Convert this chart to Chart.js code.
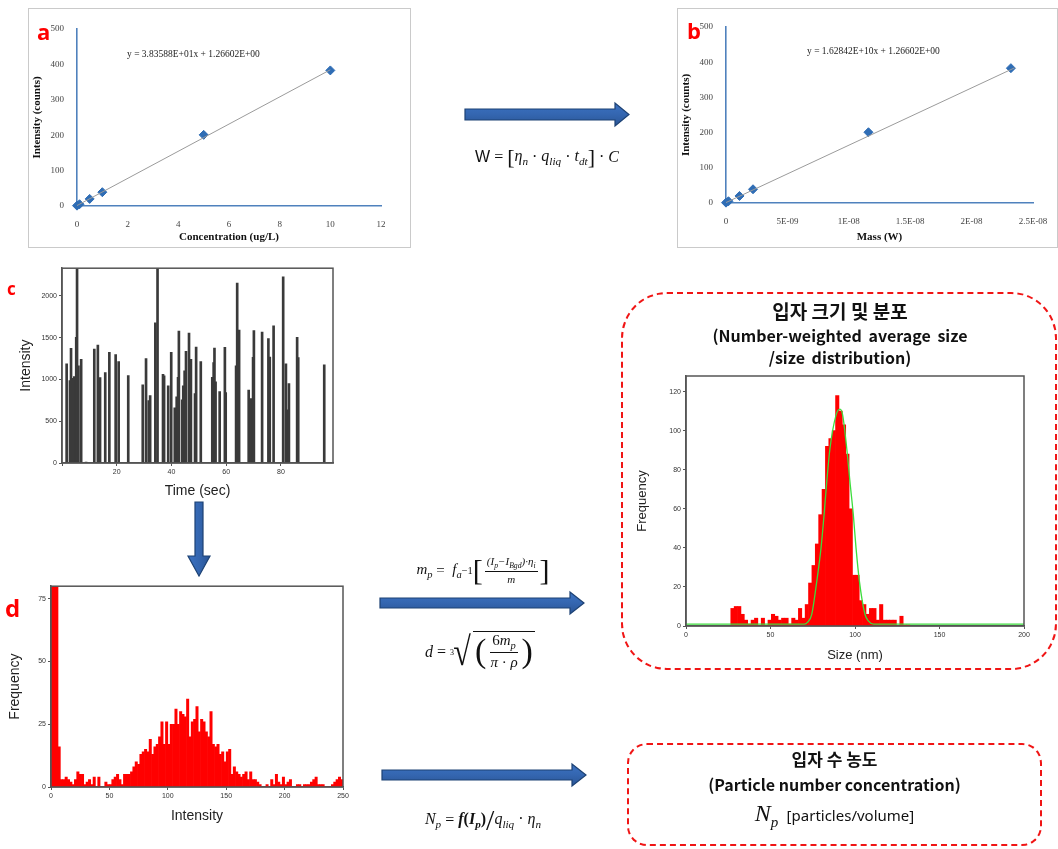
<!DOCTYPE html>
<html>
<head>
<meta charset="utf-8">
<script src="https://cdn.jsdelivr.net/npm/chart.js@4.4.1/dist/chart.umd.min.js"></script>
<style>
  body { margin: 0; width: 1058px; height: 849px; position: relative; overflow: hidden; background: #fff; font-family: "Liberation Sans", Arial, sans-serif; }
  canvas { position: absolute; }
  .abs { position: absolute; }
  .panel { position: absolute; border: 1.5px solid #cacaca; box-sizing: border-box; }
  .lbl { position: absolute; color: #f00; font-weight: bold; font-family: "Open Sans", "Noto Sans", sans-serif; line-height: 1; }
  .eq { position: absolute; font-family: "Liberation Serif", serif; font-size: 9.5px; color: #222; white-space: nowrap; }
  .dash { position: absolute; border: 2.5px dashed #f01515; box-sizing: border-box; }
  .kr { position: absolute; text-align: center; font-family: "Noto Sans CJK KR", sans-serif; font-weight: bold; color: #111; white-space: nowrap; }
  .fx { position: absolute; font-family: "Liberation Serif", serif; color: #111; white-space: nowrap; display: flex; justify-content: center; align-items: center; }
  .fx i { font-style: italic; }
  .fx sub { font-size: 0.7em; vertical-align: -0.35em; }
  .fx sup { font-size: 0.7em; vertical-align: 0.6em; }
  .frac { display: inline-flex; flex-direction: column; align-items: center; margin: 0 2px; }
  .frac .num { border-bottom: 1px solid #111; padding: 0 2px 1px; }
  .frac .den { padding: 1px 2px 0; }
</style>
</head>
<body>

<!-- panel boxes a / b -->
<div class="panel" style="left:28px;top:8px;width:383px;height:240px"></div>
<div class="panel" style="left:677px;top:8px;width:381px;height:240px"></div>

<canvas id="ca" width="382" height="239" style="left:28px;top:8px"></canvas>
<canvas id="cb" width="381" height="239" style="left:677px;top:8px"></canvas>
<canvas id="cc" width="345" height="240" style="left:0px;top:262px"></canvas>
<canvas id="cd" width="360" height="250" style="left:0px;top:580px"></canvas>

<div class="lbl" style="left:37px;top:20px;font-size:22px">a</div>
<div class="lbl" style="left:687px;top:19px;font-size:22px">b</div>
<div class="lbl" style="left:7px;top:280px;font-size:17px">c</div>
<div class="lbl" style="left:5px;top:596px;font-size:24px">d</div>

<div class="eq" style="left:127px;top:49px">y = 3.83588E+01x + 1.26602E+00</div>
<div class="eq" style="left:807px;top:46px">y = 1.62842E+10x + 1.26602E+00</div>

<!-- arrows -->
<svg class="abs" style="left:0;top:0" width="1058" height="849">
  <defs>
    <linearGradient id="gh" x1="0" y1="0" x2="0" y2="1">
      <stop offset="0" stop-color="#3c72c2"/><stop offset="0.5" stop-color="#3466b0"/><stop offset="1" stop-color="#2a5596"/>
    </linearGradient>
    <linearGradient id="gv" x1="0" y1="0" x2="1" y2="0">
      <stop offset="0" stop-color="#3c72c2"/><stop offset="0.5" stop-color="#3466b0"/><stop offset="1" stop-color="#2a5596"/>
    </linearGradient>
  </defs>
  <polygon points="465,109 615,109 615,103 629,114.5 615,126 615,120 465,120" fill="url(#gh)" stroke="#1d4274" stroke-width="1.2"/>
  <polygon points="380,598 570,598 570,592 584,603 570,614 570,608 380,608" fill="url(#gh)" stroke="#1d4274" stroke-width="1.2"/>
  <polygon points="382,770 572,770 572,764 586,775 572,786 572,780 382,780" fill="url(#gh)" stroke="#1d4274" stroke-width="1.2"/>
  <polygon points="195,502 203,502 203,556 210,556 199,576 188,556 195,556" fill="url(#gv)" stroke="#1d4274" stroke-width="1.2"/>
</svg>

<!-- formulas -->
<div class="fx" style="left:447px;top:144px;width:200px;height:26px;font-size:16px">
  <span style="font-family:'Liberation Sans',sans-serif">W</span>&nbsp;=&nbsp;<span style="font-size:22px">[</span><i>η<sub>n</sub></i>&nbsp;·&nbsp;<i>q<sub>liq</sub></i>&nbsp;·&nbsp;<i>t<sub>dt</sub></i><span style="font-size:22px">]</span>&nbsp;·&nbsp;<i>C</i>
</div>

<div class="fx" style="left:388px;top:552px;width:190px;height:36px;font-size:15px">
  <i>m<sub>p</sub></i>&nbsp;=&nbsp;&nbsp;<i>f<sub>a</sub></i><sup>−1</sup><span style="font-size:30px;font-weight:300">[</span><span class="frac" style="font-size:11px"><span class="num"><i>(I<sub>p</sub>−I<sub>Bgd</sub>)·η<sub>i</sub></i></span><span class="den"><i>m</i></span></span><span style="font-size:30px;font-weight:300">]</span>
</div>

<div class="fx" style="left:400px;top:626px;width:160px;height:52px;font-size:16px">
  <i>d</i>&nbsp;=&nbsp;<span style="font-size:8px;vertical-align:16px;margin-right:-3px">3</span><span style="font-size:40px;line-height:1;transform:scaleX(0.8);display:inline-block">√</span><span style="border-top:1.3px solid #111;display:inline-flex;align-items:center;margin-top:-2px;padding:0 2px"><span style="font-size:34px;line-height:1">(</span><span class="frac" style="font-size:15px"><span class="num">6<i>m<sub>p</sub></i></span><span class="den"><i>π</i> · <i>ρ</i></span></span><span style="font-size:34px;line-height:1">)</span></span>
</div>

<div class="fx" style="left:388px;top:802px;width:190px;height:36px;font-size:16px">
  <i>N<sub>p</sub></i>&nbsp;=&nbsp;<span style="font-weight:bold;vertical-align:8px"><i>f</i>(<i>I<sub>p</sub></i>)</span><span style="font-size:30px;line-height:1">/</span><span style="vertical-align:-8px"><i>q<sub>liq</sub></i> · <i>η<sub>n</sub></i></span>
</div>

<!-- red dashed result boxes -->
<div class="dash" style="left:621px;top:292px;width:436px;height:378px;border-radius:46px"></div>
<div class="dash" style="left:627px;top:743px;width:415px;height:103px;border-radius:20px"></div>

<div class="kr" style="left:622px;top:299px;width:436px;font-size:19px;line-height:24px">입자 크기 및 분포</div>
<div class="kr" style="left:622px;top:325px;width:436px;font-size:16px;line-height:20px;word-spacing:3px">(Number-weighted average size</div>
<div class="kr" style="left:622px;top:347px;width:436px;font-size:16px;line-height:20px;word-spacing:3px">/size distribution)</div>

<div class="kr" style="left:627px;top:748px;width:415px;font-size:17px;line-height:22px">입자 수 농도</div>
<div class="kr" style="left:627px;top:774px;width:415px;font-size:16px;line-height:20px">(Particle number concentration)</div>
<div class="abs" style="left:627px;top:800px;width:415px;text-align:center;white-space:nowrap;color:#111">
  <span style="font-family:'Liberation Serif',serif;font-style:italic;font-size:24px">N<sub style="font-size:15px">p</sub></span>
  <span style="font-family:'Noto Sans','Liberation Sans',sans-serif;font-size:15px">&nbsp;[particles/volume]</span>
</div>

<canvas id="cs" width="404" height="300" style="left:632px;top:368px"></canvas>

<script>
// ---- a: calibration, intensity vs concentration
const concA = [0, 0.1, 0.5, 1, 5, 10];
const countsA = [1, 5, 20, 39, 201, 383];
const trendAx = [0, 10];
const trendAy = [1.27, 384.85];

// ---- b: intensity vs mass
const massB = [0, 2e-10, 1.1e-9, 2.2e-9, 1.16e-8, 2.32e-8];
const countsB = [1, 5, 20, 39, 201, 383];
const trendBx = [0, 2.35e-8];
const trendBy = [1.27, 383.95];

// ---- c: time-resolved signal
const cTime = [1.7, 2.9, 3.3, 3.9, 4.5, 5.2, 5.5, 6.0, 7.0, 8.8, 11.8, 13.1, 13.9, 15.8, 17.3, 19.6, 20.7, 24.2,
  29.5, 30.7, 31.7, 32.2, 34.1, 34.9, 36.9, 37.3, 38.8, 39.9, 41.2, 41.9, 42.4, 42.7, 43.9, 44.3, 44.8, 45.3,
  46.4, 47.1, 48.6, 49.0, 50.7, 54.9, 55.4, 55.7, 56.1, 57.6, 59.5, 59.8, 63.6, 64.0, 64.7, 68.2, 69.0, 69.8,
  70.1, 73.1, 75.4, 75.9, 77.3, 80.8, 81.8, 82.4, 82.9, 85.9, 86.3, 95.8];
const cIntensity = [1185, 986, 1372, 1014, 1034, 1503, 2500, 1161, 1240, 10, 1364, 1411, 1022, 1081, 1324, 1296, 1213, 1046,
  934, 1248, 747, 807, 1678, 2500, 1062, 1042, 922, 1324, 660, 791, 1026, 1579, 755, 922, 1101, 1336,
  1555, 1240, 831, 1388, 1213, 1026, 1201, 1376, 970, 855, 1384, 843, 1161, 2151, 1590, 871, 771, 1264,
  1583, 1567, 1487, 1268, 1642, 2227, 1185, 636, 950, 1503, 1260, 1173];
const cIntensityTicks = [0, 500, 1000, 1500, 2000];

// ---- d: intensity histogram (bins of 2 counts from 0 to 250)
const dBinStart = 0;
const dBinWidth = 2;
const dFreq = [95, 95, 95, 16, 3, 3, 4, 3, 2, 1, 3, 6, 5, 5, 1, 2, 3, 1, 4, 0,
  4, 0, 0, 2, 1, 1, 3, 4, 5, 3, 1, 5, 5, 5, 6, 8, 10, 9, 13, 14,
  15, 14, 19, 13, 16, 17, 20, 26, 17, 26, 17, 25, 25, 31, 25, 30, 29, 28, 35, 20,
  26, 27, 32, 22, 27, 26, 22, 20, 30, 17, 16, 17, 13, 14, 10, 14, 15, 5, 8, 6,
  5, 4, 5, 6, 3, 6, 3, 3, 2, 1, 0, 0, 1, 0, 3, 1, 5, 2, 1, 4,
  1, 2, 3, 0, 0, 1, 1, 0, 1, 1, 1, 2, 3, 4, 1, 1, 1, 0, 0, 0,
  1, 2, 3, 4, 3];

// ---- size distribution histogram (bins of 2 nm starting at 26.5 nm) + fitted curve
const sBinStart = 26.5;
const sBinWidth = 2;
const sFreq = [9, 10, 10, 6, 3, 1, 3, 4, 0, 4, 0, 3, 6, 5, 3, 4, 4, 1, 4, 3,
  9, 4, 11, 22, 31, 42, 57, 70, 92, 96, 100, 118, 110, 103, 88, 60, 26, 26, 13, 11,
  6, 9, 9, 3, 11, 3, 3, 3, 3, 0, 5, 0.5, 0.5];
const fitSize = [0, 70, 72, 74.4, 77.4, 79.9, 81.7, 83.3, 85.2, 88.8, 91.1, 92.7, 95.1, 97, 99, 100.6, 102.6, 105.9, 108, 111, 200];
const fitFreq = [1, 1, 2, 6, 23, 40, 57, 74, 91, 108, 111, 108, 91, 74, 57, 40, 23, 6, 2.5, 1, 1];

Chart.defaults.animation = false;
Chart.defaults.responsive = false;
Chart.defaults.maintainAspectRatio = false;
Chart.defaults.devicePixelRatio = 1;
Chart.defaults.plugins.legend.display = false;
Chart.defaults.plugins.tooltip.enabled = false;

const SERIF = "'Liberation Serif', 'Times New Roman', serif";
const SANS = "'Liberation Sans', Arial, sans-serif";

const fixW = w => s => { s.width = w; };
const fixH = h => s => { s.height = h; };
const xy = (xs, ys) => xs.map((x, i) => ({ x, y: ys[i] }));

// full box around the plot area (top/right sides too)
const framePlugin = {
  id: 'frame',
  afterDraw(chart, args, opts) {
    if (!opts || !opts.color) return;
    const { ctx, chartArea: a } = chart;
    ctx.save();
    ctx.strokeStyle = opts.color;
    ctx.lineWidth = opts.width || 1;
    ctx.strokeRect(a.left, a.top, a.right - a.left, a.bottom - a.top);
    ctx.restore();
  }
};

// Excel-style axis (a, b)
const excelAxis = (titleText, ticks, extra) => Object.assign({
  grid: { display: false },
  border: { color: '#4f81bd', width: 1.6 },
  ticks: Object.assign({ color: '#444', font: { family: SERIF, size: 9 }, maxRotation: 0, padding: 5 }, ticks),
  title: { display: true, text: titleText, color: '#111', font: { family: SERIF, size: 11, weight: 'bold' }, padding: { top: 3, bottom: 3 } }
}, extra);

// Origin-style axis (c, d, size)
const plainAxis = (titleText, size, pad, ticks, extra) => Object.assign({
  offset: false,
  grid: { display: true, drawOnChartArea: false, offset: false, color: '#555', tickLength: 3 },
  border: { color: '#555', width: 1.5 },
  ticks: Object.assign({ color: '#333', font: { family: SANS, size: 7 }, maxRotation: 0, padding: 2, includeBounds: false, callback: v => String(v) }, ticks),
  title: { display: true, text: titleText, color: '#222', font: { family: SANS, size: size }, padding: { top: pad, bottom: pad } }
}, extra);

function expLabel(v) {
  if (v === 0) return '0';
  const e = Math.floor(Math.log10(v) + 1e-9);
  const m = +(v / Math.pow(10, e)).toFixed(1);
  return m + 'E-' + String(-e).padStart(2, '0');
}

// a
new Chart(document.getElementById('ca'), {
  type: 'scatter',
  data: {
    datasets: [
      { data: xy(trendAx, trendAy), showLine: true, borderColor: '#9b9b9b', borderWidth: 1, pointRadius: 0 },
      { data: xy(concA, countsA), pointStyle: 'rectRot', pointRadius: 4.5, backgroundColor: '#2f6db5', borderColor: '#2f6db5', clip: false }
    ]
  },
  options: {
    layout: { padding: { top: 21, right: 29, left: 0, bottom: 0 } },
    scales: {
      x: excelAxis('Concentration (ug/L)', { stepSize: 2 }, { min: 0, max: 12, afterFit: fixH(41) }),
      y: excelAxis('Intensity (counts)', { stepSize: 100 }, { min: 0, max: 500, afterFit: fixW(49) })
    }
  }
});

// b
new Chart(document.getElementById('cb'), {
  type: 'scatter',
  data: {
    datasets: [
      { data: xy(trendBx, trendBy), showLine: true, borderColor: '#9b9b9b', borderWidth: 1, pointRadius: 0 },
      { data: xy(massB, countsB), pointStyle: 'rectRot', pointRadius: 4.5, backgroundColor: '#2f6db5', borderColor: '#2f6db5', clip: false }
    ]
  },
  options: {
    layout: { padding: { top: 19, right: 25, left: 0, bottom: 0 } },
    scales: {
      x: excelAxis('Mass (W)', { stepSize: 5e-9, callback: v => expLabel(v) }, { min: 0, max: 2.5e-8, afterFit: fixH(44) }),
      y: excelAxis('Intensity (counts)', { stepSize: 100 }, { min: 0, max: 500, afterFit: fixW(49) })
    }
  }
});

// c
new Chart(document.getElementById('cc'), {
  type: 'bar',
  data: { datasets: [{ data: xy(cTime, cIntensity), backgroundColor: '#3a3a3a', barThickness: 2 }] },
  options: {
    layout: { padding: { top: 6, right: 12, left: 0, bottom: 0 } },
    scales: {
      x: plainAxis('Time (sec)', 14, 2, { stepSize: 20, callback: v => (v === 0 ? '' : String(v)) }, { type: 'linear', min: 0, max: 99, afterFit: fixH(39) }),
      y: plainAxis('Intensity', 14, 18, {}, {
        min: 0, max: 2330, afterFit: fixW(62),
        afterBuildTicks: s => { s.ticks = cIntensityTicks.map(v => ({ value: v })); }
      })
    },
    plugins: { frame: { color: '#555', width: 1.5 } }
  },
  plugins: [framePlugin]
});

// d
new Chart(document.getElementById('cd'), {
  type: 'bar',
  data: {
    datasets: [{
      data: dFreq.map((f, i) => ({ x: dBinStart + dBinWidth * (i + 0.5), y: f })),
      backgroundColor: '#ff0000', barPercentage: 1, categoryPercentage: 1
    }]
  },
  options: {
    layout: { padding: { top: 6, right: 17, left: 0, bottom: 0 } },
    scales: {
      x: plainAxis('Intensity', 14, 5, { stepSize: 50 }, { type: 'linear', min: 0, max: 250, afterFit: fixH(43) }),
      y: plainAxis('Frequency', 14, 7, { stepSize: 25 }, { min: 0, max: 80, afterFit: fixW(51) })
    },
    plugins: { frame: { color: '#555', width: 1.5 } }
  },
  plugins: [framePlugin]
});

// size distribution
new Chart(document.getElementById('cs'), {
  type: 'bar',
  data: {
    datasets: [
      { type: 'line', data: xy(fitSize, fitFreq), borderColor: '#3ddc3d', borderWidth: 1.3, pointRadius: 0, cubicInterpolationMode: 'monotone', order: 0 },
      {
        data: sFreq.map((f, i) => ({ x: sBinStart + sBinWidth * (i + 0.5), y: f })),
        backgroundColor: '#ff0000', barPercentage: 1, categoryPercentage: 1, order: 1
      }
    ]
  },
  options: {
    layout: { padding: { top: 8, right: 12, left: 0, bottom: 0 } },
    scales: {
      x: plainAxis('Size (nm)', 13, 5, { stepSize: 50 }, { type: 'linear', min: 0, max: 200, afterFit: fixH(42) }),
      y: plainAxis('Frequency', 13, 3, { stepSize: 20 }, { min: 0, max: 128, afterFit: fixW(54) })
    },
    plugins: { frame: { color: '#555', width: 1.5 } }
  },
  plugins: [framePlugin]
});
</script>
</body>
</html>
